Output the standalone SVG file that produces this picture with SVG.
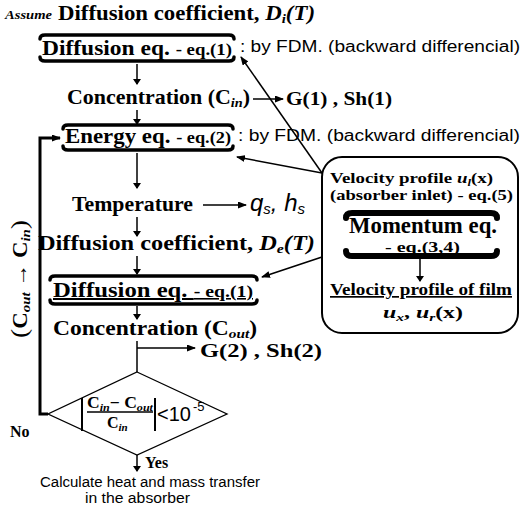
<svg xmlns="http://www.w3.org/2000/svg" width="521" height="510" viewBox="0 0 521 510">
<defs>
<marker id="ah" markerWidth="9" markerHeight="7" refX="8" refY="3.5" orient="auto" markerUnits="userSpaceOnUse">
<path d="M0,0 L9,3.5 L0,7 Z" fill="#000"/>
</marker>
<marker id="ahs" markerWidth="6" markerHeight="8" refX="5" refY="4" orient="auto" markerUnits="userSpaceOnUse">
<path d="M0,0 L6,4 L0,8 Z" fill="#000"/>
</marker>
</defs>
<style>
.t{font-family:"Liberation Serif","Times New Roman",serif;font-weight:bold;fill:#000}
.s{font-family:"Liberation Sans",Arial,sans-serif;fill:#000}
.bar{fill:none;stroke:#000;stroke-width:3.5;stroke-linecap:round}
.mbar{fill:none;stroke:#000;stroke-width:6;stroke-linecap:round}
.c{fill:none;stroke:#000;stroke-width:1.5}
.ca{fill:none;stroke:#000;stroke-width:1.5;marker-end:url(#ah)}
.cs{fill:none;stroke:#000;stroke-width:1.5;marker-end:url(#ahs)}
.i{font-style:italic}
</style>

<g id="title">
<text class="t i" x="5" y="19" font-size="12" textLength="47" lengthAdjust="spacingAndGlyphs">Assume</text>
<text class="t" x="58" y="20" font-size="20" textLength="257" lengthAdjust="spacingAndGlyphs">Diffusion coefficient, <tspan class="i">D</tspan><tspan class="i" font-size="13" dy="3">i</tspan><tspan class="i" dy="-3">(T)</tspan></text>
</g>

<g id="node-diffusion1">
<path class="bar" d="M40,39 Q40,35 45,35 L229,35 Q234,35 234,39"/>
<text class="t" x="42" y="55" font-size="20" textLength="190" lengthAdjust="spacingAndGlyphs">Diffusion eq. <tspan font-size="16">- eq.(1)</tspan></text>
<path class="bar" d="M40,57 Q40,61 45,61 L229,61 Q234,61 234,57"/>
<text class="s" x="240" y="52" font-size="16" textLength="280" lengthAdjust="spacingAndGlyphs">: by FDM. (backward differencial)</text>
</g>

<g id="node-conc1">
<text class="t" x="67" y="104" font-size="20" textLength="183" lengthAdjust="spacingAndGlyphs">Concentration (C<tspan class="i" font-size="13" dy="3">in</tspan><tspan dy="-3">)</tspan></text>
<text class="t" x="286" y="105" font-size="19" textLength="106" lengthAdjust="spacingAndGlyphs">G(1) , Sh(1)</text>
</g>

<g id="node-energy">
<path class="bar" d="M63,129 Q63,125 68,125 L228,125 Q233,125 233,129"/>
<text class="t" x="65" y="143" font-size="20" textLength="166" lengthAdjust="spacingAndGlyphs">Energy eq. <tspan font-size="16">- eq.(2)</tspan></text>
<path class="bar" d="M63,146 Q63,150 68,150 L228,150 Q233,150 233,146"/>
<text class="s" x="238" y="141" font-size="16" textLength="282" lengthAdjust="spacingAndGlyphs">: by FDM. (backward differencial)</text>
</g>

<g id="node-temperature">
<text class="t" x="72" y="211" font-size="20" textLength="121" lengthAdjust="spacingAndGlyphs">Temperature</text>
<text class="s i" x="250" y="211" font-size="24">q<tspan font-size="15" dy="3">s</tspan><tspan dy="-3">, h</tspan><tspan font-size="15" dy="3">s</tspan></text>
</g>

<g id="node-diffcoef">
<text class="t" x="38" y="250" font-size="20" textLength="277" lengthAdjust="spacingAndGlyphs">Diffusion coefficient, <tspan class="i">D</tspan><tspan class="i" font-size="13" dy="3">e</tspan><tspan class="i" dy="-3">(T)</tspan></text>
</g>

<g id="node-diffusion2">
<path class="bar" d="M50,280 Q50,276 55,276 L252,276 Q257,276 257,280"/>
<text class="t" x="53" y="297" font-size="20" textLength="200" lengthAdjust="spacingAndGlyphs" text-decoration="underline">Diffusion eq. <tspan font-size="16">- eq.(1)</tspan></text>
<path class="bar" d="M50,300 Q50,304 55,304 L252,304 Q257,304 257,300"/>
</g>

<g id="node-conc2">
<text class="t" x="53" y="335" font-size="20" textLength="204" lengthAdjust="spacingAndGlyphs">Concentration (C<tspan class="i" font-size="13" dy="3">out</tspan><tspan dy="-3">)</tspan></text>
<text class="t" x="200" y="357" font-size="19" textLength="122" lengthAdjust="spacingAndGlyphs">G(2) , Sh(2)</text>
</g>

<g id="node-check">
<polygon points="137,372 227,414 137,455 48,414" fill="none" stroke="#000" stroke-width="1.3"/>
<line x1="82" y1="398" x2="82" y2="431" stroke="#000" stroke-width="2"/>
<line x1="155" y1="398" x2="155" y2="431" stroke="#000" stroke-width="2"/>
<text class="t" x="87" y="408" font-size="16" textLength="66" lengthAdjust="spacingAndGlyphs">C<tspan class="i" font-size="11" dy="3">in</tspan><tspan dy="-3">− C</tspan><tspan class="i" font-size="11" dy="3">out</tspan></text>
<line x1="87" y1="412" x2="153" y2="412" stroke="#000" stroke-width="1.5"/>
<text class="t" x="107" y="428" font-size="16">C<tspan class="i" font-size="11" dy="3">in</tspan></text>
<text class="s" x="157" y="421" font-size="20">&lt;10</text>
<text class="s" x="193" y="411" font-size="13">-5</text>
<text class="t" x="10" y="437" font-size="16">No</text>
<text class="t" x="145" y="468" font-size="16">Yes</text>
</g>

<g id="node-result">
<text class="s" x="40" y="487" font-size="14" fill="#555" textLength="220" lengthAdjust="spacingAndGlyphs">Calculate heat and mass transfer</text>
<text class="s" x="85" y="503" font-size="14" fill="#555" textLength="105" lengthAdjust="spacingAndGlyphs">in the absorber</text>
</g>

<g id="node-velocity">
<rect x="322" y="157" width="196" height="176" rx="20" ry="20" fill="none" stroke="#000" stroke-width="2"/>
<text class="t" x="330" y="183" font-size="15" textLength="163" lengthAdjust="spacingAndGlyphs">Velocity profile <tspan class="i">u</tspan><tspan class="i" font-size="10" dy="3">l</tspan><tspan dy="-3">(x)</tspan></text>
<text class="t" x="330" y="200" font-size="15" textLength="183" lengthAdjust="spacingAndGlyphs">(absorber inlet) - eq.(5)</text>
<path class="mbar" d="M346,218 Q346,213 352,213 L491,213 Q497,213 497,218"/>
<text class="t" x="349" y="233" font-size="23" textLength="148" lengthAdjust="spacingAndGlyphs">Momentum eq.</text>
<text class="t" x="385" y="252" font-size="14" textLength="75" lengthAdjust="spacingAndGlyphs">- eq.(3,4)</text>
<path class="mbar" d="M346,251 Q346,256 352,256 L491,256 Q497,256 497,251"/>
<text class="t" x="330" y="295" font-size="17" textLength="182" lengthAdjust="spacingAndGlyphs" text-decoration="underline">Velocity profile of film</text>
<text class="t" x="383" y="318" font-size="17" textLength="80" lengthAdjust="spacingAndGlyphs"><tspan class="i">u</tspan><tspan class="i" font-size="11" dy="3">x</tspan><tspan dy="-3">, </tspan><tspan class="i">u</tspan><tspan class="i" font-size="11" dy="3">r</tspan><tspan dy="-3">(x)</tspan></text>
</g>

<g id="loop-label">
<text class="t" transform="translate(27,338) rotate(-90)" font-size="20" textLength="118" lengthAdjust="spacingAndGlyphs"><tspan font-weight="normal" font-size="24">(</tspan>C<tspan class="i" font-size="13" dy="3">out</tspan><tspan dy="-3"> → C</tspan><tspan class="i" font-size="13" dy="3">in</tspan><tspan dy="-3" font-weight="normal" font-size="24">)</tspan></text>
</g>

<g id="connectors">
<line class="cs" x1="137" y1="64" x2="137" y2="84"/>
<line class="cs" x1="137" y1="110" x2="137" y2="124"/>
<line class="ca" x1="253" y1="99" x2="283" y2="99"/>
<line class="cs" x1="137" y1="153" x2="137" y2="188"/>
<line class="ca" x1="203" y1="205" x2="246" y2="205"/>
<line class="cs" x1="137" y1="217" x2="137" y2="236"/>
<line class="cs" x1="137" y1="256" x2="137" y2="274"/>
<line class="cs" x1="137" y1="306" x2="137" y2="319"/>
<line class="c" x1="137" y1="341" x2="137" y2="372"/>
<line class="ca" x1="137" y1="348" x2="195" y2="348"/>
<line class="cs" x1="137" y1="455" x2="137" y2="471"/>
<path d="M48,414 H40 V138 H60" fill="none" stroke="#000" stroke-width="3" marker-end="url(#ah)"/>
<line class="ca" x1="322" y1="173" x2="237" y2="157"/>
<line class="ca" x1="322" y1="173" x2="241" y2="57"/>
<line class="ca" x1="322" y1="257" x2="262" y2="277"/>
<line class="cs" x1="420" y1="259" x2="420" y2="281"/>
</g>
</svg>
